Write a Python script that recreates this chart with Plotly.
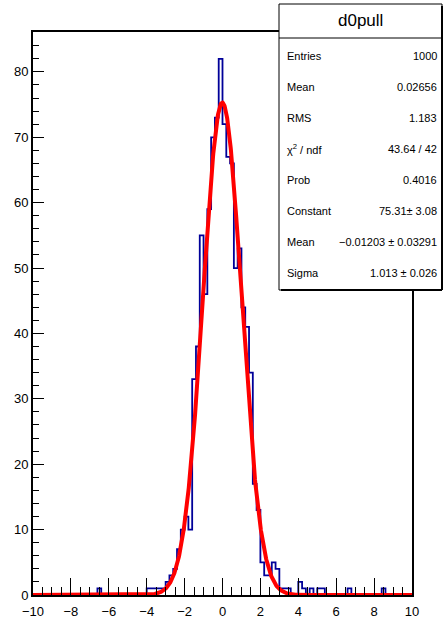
import plotly.graph_objects as go
import numpy as np

# Histogram "d0pull": 100 bins from -10 to 10 (bin width 0.2)
x_min, x_max, n_bins = -10.0, 10.0, 100
counts = [
    0, 0, 0, 0, 0, 0, 0, 0, 0, 0,      # -10.0 .. -8.2
    0, 0, 0, 0, 0, 0, 0, 1, 0, 0,      # -8.0 .. -6.2
    0, 0, 0, 0, 0, 0, 0, 0, 0, 0,      # -6.0 .. -4.2
    1, 1, 1, 1, 1, 2, 3, 4, 7, 10,     # -4.0 .. -2.2
    12, 10, 33, 38, 55, 46, 59, 70, 73, 82,   # -2.0 .. -0.2
    72, 67, 66, 50, 53, 44, 41, 34, 17, 13,   # 0.0 .. 1.8
    5, 3, 3, 5, 4, 1, 1, 1, 0, 0,      # 2.0 .. 3.8
    2, 1, 0, 1, 0, 1, 1, 0, 0, 0,      # 4.0 .. 5.8
    0, 0, 0, 1, 0, 0, 0, 0, 0, 0,      # 6.0 .. 7.8
    0, 0, 1, 0, 0, 0, 0, 0, 0, 0,      # 8.0 .. 9.8
]

# Fit parameters (gaus) from the stats box
fit_const, fit_mean, fit_sigma = 75.31, -0.01203, 1.013

stat_labels = ["Entries", "Mean", "RMS", "χ<sup>2</sup> / ndf", "Prob",
               "Constant", "Mean", "Sigma"]
stat_values = ["1000", "0.02656", "1.183", "43.64 / 42", "0.4016",
               "75.31± 3.08", "−0.01203 ± 0.03291", "1.013 ± 0.026"]
hist_title = "d0pull"

# ---- build step outline
edges = np.linspace(x_min, x_max, n_bins + 1)
step_x = [edges[0]]
step_y = [0]
for i, c in enumerate(counts):
    step_x += [edges[i], edges[i + 1]]
    step_y += [c, c]
step_x.append(edges[-1])
step_y.append(0)

fx = np.linspace(x_min, x_max, 1500)
fy = fit_const * np.exp(-0.5 * ((fx - fit_mean) / fit_sigma) ** 2)

W, H = 444, 622
ML, MR, MT, MB = 33, 32, 32, 27
PW, PH = W - ML - MR, H - MT - MB


def px(xp):
    return (xp - ML) / PW


def py(yp):
    return (H - MB - yp) / PH


fig = go.Figure()
fig.add_trace(go.Scatter(x=step_x, y=step_y, mode="lines",
                         line=dict(color="#000099", width=1.8),
                         hoverinfo="skip", showlegend=False))
fig.add_trace(go.Scatter(x=fx, y=fy, mode="lines",
                         line=dict(color="#ff0000", width=4),
                         hoverinfo="skip", showlegend=False))

font = "Liberation Sans, Arial, Helvetica, sans-serif"

ymax = 1.05 * max(counts)

fig.update_xaxes(range=[x_min, x_max], showgrid=False, zeroline=False,
                 automargin=False,
                 showline=True, linecolor="black", linewidth=2, mirror=True,
                 ticks="inside", ticklen=17, tickwidth=1, tickcolor="black",
                 dtick=2, tick0=0, ticklabelstandoff=3,
                 minor=dict(ticks="inside", ticklen=8, dtick=0.5,
                            tickcolor="black", tickwidth=1),
                 tickfont=dict(family=font, size=13, color="black"))
fig.update_yaxes(range=[0, ymax], showgrid=False, zeroline=False,
                 automargin=False,
                 showline=True, linecolor="black", linewidth=2, mirror=True,
                 ticks="inside", ticklen=11, tickwidth=1, tickcolor="black",
                 dtick=10, tick0=0,
                 minor=dict(ticks="inside", ticklen=6, dtick=2,
                            tickcolor="black", tickwidth=1),
                 tickfont=dict(family=font, size=13, color="black"))

# ---- stats box
bx0, bx1, by0, by1 = 279, 442, 4, 290
shapes = [
    dict(type="rect", xref="paper", yref="paper",
         x0=px(bx0), x1=px(bx1), y0=py(by1), y1=py(by0),
         line=dict(color="black", width=1), fillcolor="white", layer="above"),
    dict(type="line", xref="paper", yref="paper",
         x0=px(bx1), x1=px(bx1), y0=py(by1), y1=py(by0 + 2),
         line=dict(color="black", width=2), layer="above"),
    dict(type="line", xref="paper", yref="paper",
         x0=px(bx0 + 2), x1=px(bx1), y0=py(by1), y1=py(by1),
         line=dict(color="black", width=2), layer="above"),
    dict(type="line", xref="paper", yref="paper",
         x0=px(bx0), x1=px(bx1), y0=py(38), y1=py(38),
         line=dict(color="black", width=1), layer="above"),
]
annotations = [
    dict(text=hist_title, xref="paper", yref="paper",
         x=px((bx0 + bx1) / 2), y=py(21), xanchor="center", yanchor="middle",
         showarrow=False, font=dict(family=font, size=17, color="black"))
]
row_y = [56, 87, 118, 148.5, 180, 211.5, 242, 273]
for lab, val, yy in zip(stat_labels, stat_values, row_y):
    annotations.append(dict(text=lab, xref="paper", yref="paper",
                            x=px(285), y=py(yy), xanchor="left",
                            yanchor="middle", showarrow=False,
                            font=dict(family=font, size=11, color="black")))
    annotations.append(dict(text=val, xref="paper", yref="paper",
                            x=px(439), y=py(yy), xanchor="right",
                            yanchor="middle", showarrow=False,
                            font=dict(family=font, size=11, color="black")))

fig.update_layout(width=W, height=H,
                  margin=dict(l=ML, r=MR, t=MT, b=MB, pad=0, autoexpand=False),
                  paper_bgcolor="white", plot_bgcolor="white",
                  shapes=shapes, annotations=annotations,
                  showlegend=False)

fig.write_html("out.html",
               config={"displayModeBar": False},
               post_script="document.body.style.margin='0';"
                           "document.body.style.overflow='hidden';")
